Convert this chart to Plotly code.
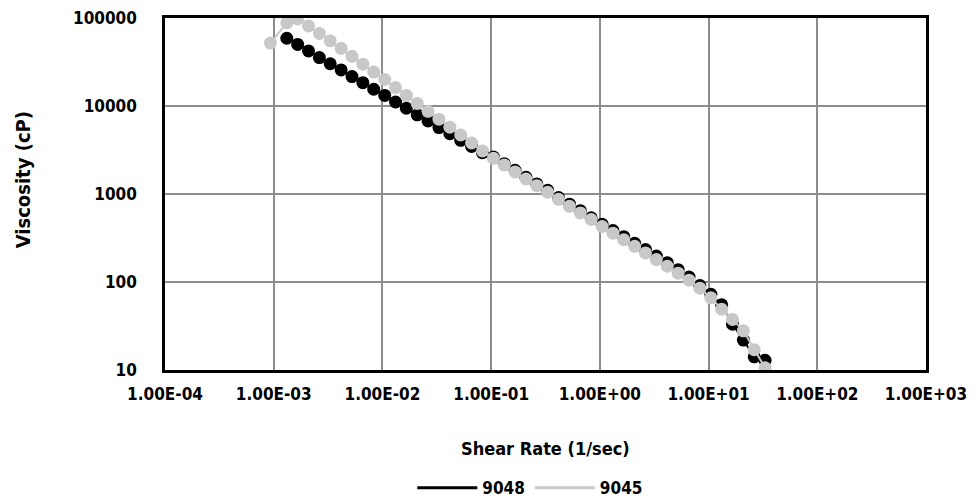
import plotly.graph_objects as go

# Shear rate (1/sec)
shear_9048 = [0.00132, 0.00166, 0.00209, 0.00263, 0.00331, 0.00417, 0.00525, 0.00661, 0.00832,
              0.0105, 0.0132, 0.0166, 0.0209, 0.0263, 0.0331, 0.0417, 0.0525, 0.0661, 0.0832,
              0.105, 0.132, 0.166, 0.209, 0.263, 0.331, 0.417, 0.525, 0.661, 0.832,
              1.05, 1.32, 1.66, 2.09, 2.63, 3.31, 4.17, 5.25, 6.61, 8.32,
              10.5, 13.2, 16.6, 20.9, 26.3, 33.1]
visc_9048 = [58900, 50100, 42200, 35500, 30200, 25700, 21600, 18400, 15500,
             13200, 11100, 9440, 7940, 6760, 5690, 4840, 4070, 3470, 2950,
             2630, 2210, 1860, 1550, 1300, 1100, 912, 767, 646, 537,
             452, 385, 327, 275, 234, 197, 166, 138, 114, 91.2,
             72.4, 55.0, 33.1, 21.9, 14.1, 12.9]

shear_9045 = [0.000933, 0.00132, 0.00166, 0.00209, 0.00263, 0.00331, 0.00417, 0.00525, 0.00661, 0.00832,
              0.0105, 0.0132, 0.0166, 0.0209, 0.0263, 0.0331, 0.0417, 0.0525, 0.0661, 0.0832,
              0.105, 0.132, 0.166, 0.209, 0.263, 0.331, 0.417, 0.525, 0.661, 0.832,
              1.05, 1.32, 1.66, 2.09, 2.63, 3.31, 4.17, 5.25, 6.61, 8.32,
              10.5, 13.2, 16.6, 20.9, 26.3, 33.1]
visc_9045 = [51900, 88100, 97700, 81300, 66800, 55000, 45200, 36700, 29900, 24300,
             20000, 16200, 13200, 10700, 8710, 7080, 5750, 4680, 3800, 3090,
             2540, 2140, 1780, 1480, 1245, 1047, 871, 724, 610, 513,
             427, 359, 302, 254, 214, 180, 151, 126, 105, 85.1,
             66.1, 49.0, 37.6, 27.9, 17.0, 10.6]

x_tickvals = [1e-4, 1e-3, 1e-2, 1e-1, 1e0, 1e1, 1e2, 1e3]
x_ticktext = ["1.00E-04", "1.00E-03", "1.00E-02", "1.00E-01", "1.00E+00", "1.00E+01", "1.00E+02", "1.00E+03"]
y_tickvals = [10, 100, 1000, 10000, 100000]
y_ticktext = ["10", "100", "1000", "10000", "100000"]

FONT = "DejaVu Sans Condensed, Liberation Sans, sans-serif"
BLACK = "#000000"
GRAY = "#c8c8c8"


def f(size):
    return dict(family=FONT, size=size, color="#000000", weight="bold")


fig = go.Figure()
fig.add_trace(go.Scatter(x=shear_9048, y=visc_9048, mode="lines+markers", name="9048",
                         line=dict(color=BLACK, width=2),
                         marker=dict(color=BLACK, size=13, line=dict(width=0)),
                         showlegend=False))
fig.add_trace(go.Scatter(x=shear_9045, y=visc_9045, mode="lines+markers", name="9045",
                         line=dict(color=GRAY, width=2),
                         marker=dict(color=GRAY, size=13, line=dict(width=0)),
                         showlegend=False))
# legend entries (line only, as in the reference)
fig.add_trace(go.Scatter(x=[None], y=[None], mode="lines", name="9048",
                         line=dict(color=BLACK, width=3)))
fig.add_trace(go.Scatter(x=[None], y=[None], mode="lines", name="9045",
                         line=dict(color=GRAY, width=3)))

fig.update_layout(
    width=973, height=518,
    margin=dict(l=164.5, r=47, t=17.6, b=136.7),
    paper_bgcolor="white", plot_bgcolor="white",
    font=f(17),
    xaxis=dict(type="log", range=[-4, 3], tickvals=x_tickvals, ticktext=x_ticktext,
               tickfont=f(17), tickangle=0, automargin=False,
               showgrid=True, gridcolor="#8c8c8c", gridwidth=1.5,
               showline=True, linecolor="#000000", linewidth=2.5, mirror=True,
               ticks="", ticklabelstandoff=7, zeroline=False),
    yaxis=dict(type="log", range=[1, 5], tickvals=y_tickvals, ticktext=y_ticktext,
               tickfont=f(17), automargin=False,
               showgrid=True, gridcolor="#8c8c8c", gridwidth=1.5,
               showline=True, linecolor="#000000", linewidth=2.5, mirror=True,
               ticks="", ticklabelstandoff=22, zeroline=False),
    legend=dict(orientation="h", x=0.48, xanchor="center", y=-0.336, yanchor="middle",
                font=f(17), bgcolor="rgba(0,0,0,0)", itemwidth=60),
    annotations=[
        dict(text="Shear Rate (1/sec)", xref="paper", yref="paper", x=0.5, y=-0.222,
             xanchor="center", yanchor="middle", showarrow=False, font=f(18)),
        dict(text="Viscosity (cP)", xref="paper", yref="paper", x=-0.187, y=0.541,
             xanchor="center", yanchor="middle", showarrow=False, textangle=-90, font=f(20)),
    ],
)

fig.write_html(
    "out.html",
    config={"displayModeBar": False},
    post_script=(
        "document.documentElement.style.margin='0';"
        "document.body.style.margin='0';"
        "document.body.style.padding='0';"
    ),
)
